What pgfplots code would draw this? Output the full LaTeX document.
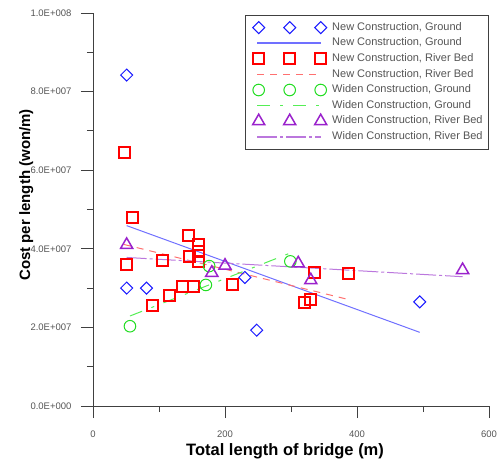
\documentclass[border=0pt]{standalone}
\usepackage{fontspec}
\setmainfont{Liberation Sans}
\usepackage{pgfplots}
\pgfplotsset{compat=1.18}
\definecolor{mblue}{HTML}{1A1AFF}
\definecolor{lblue}{HTML}{7070FF}
\definecolor{mred}{HTML}{FF0000}
\definecolor{lred}{HTML}{FF7070}
\definecolor{mgreen}{HTML}{22DD22}
\definecolor{lgreen}{HTML}{55EE55}
\definecolor{mpurple}{HTML}{9A22CC}
\definecolor{lpurple}{HTML}{BB77DD}
\definecolor{txtgray}{HTML}{555555}
\definecolor{axgray}{HTML}{404040}
\pgfplotsset{
 markleg/.style={legend image code/.code={
   \pgfpathrectangle{\pgfpoint{-6pt}{-3pt}}{\pgfpoint{70pt}{6pt}}\pgfusepath{use as bounding box}
   \draw[##1] plot coordinates {(1.5pt,0pt)(32.5pt,0pt)(63.5pt,0pt)};}},
 lineleg/.style={legend image code/.code={
   \pgfpathrectangle{\pgfpoint{-6pt}{-3pt}}{\pgfpoint{70pt}{6pt}}\pgfusepath{use as bounding box}
   \draw[##1, line width=1.6pt] (0pt,0pt) -- (64pt,0pt);}},
}
\begin{document}
\begin{tikzpicture}
\useasboundingbox (-93pt,-60pt) rectangle (404pt,406pt);
\begin{axis}[
 at={(0pt,0pt)}, anchor=south west,
 scale only axis, width=396pt, height=393pt,
 xmin=0, xmax=600, ymin=0, ymax=1e8,
 axis x line*=bottom, axis y line*=left,
 axis line style={axgray, line width=0.8pt, -},
 tick align=outside,
 major tick length=12pt, minor tick length=6pt,
 tick style={axgray, line width=0.8pt},
 xtick={0,200,400,600}, minor xtick={100,300,500},
 ytick={0,2e7,4e7,6e7,8e7,1e8}, minor ytick={1e7,3e7,5e7,7e7,9e7},
 yticklabels={0.0E+000,2.0E+007,4.0E+007,6.0E+007,8.0E+007,1.0E+008},
 scaled y ticks=false, scaled x ticks=false,
 /pgf/number format/assume math mode=true,
 xticklabel style={font=\fontsize{9.5}{11}\selectfont, text=txtgray, yshift=-9pt},
 yticklabel style={font=\fontsize{9.5}{11}\selectfont, text=txtgray, xshift=-6pt},
 xlabel={Total length of bridge (m)},
 ylabel={Cost per length (won/m)},
 every axis x label/.style={font=\fontsize{16.5}{18}\selectfont\bfseries, at={(axis description cs:0.485,-0.127)}, anchor=base},
 every axis y label/.style={font=\fontsize{15}{18}\selectfont\bfseries, at={(axis description cs:-0.159,0.537)}, rotate=90, anchor=base},
 legend style={at={(axis description cs:1,0.995)}, anchor=north east,
   draw=axgray, line width=0.8pt, fill=white,
   font=\fontsize{11}{13}\selectfont, text=txtgray,
   inner xsep=6pt, inner ysep=7pt, row sep=5.1pt,
   nodes={inner sep=0pt, text height=8pt, text depth=2.5pt},
   /tikz/column 1/.style={column sep=11pt}},
 legend cell align=left,
]
% New Construction, Ground
\addplot[only marks, mblue, line width=1pt, mark=square, mark size=4.25pt, mark options={rotate=45, solid}, markleg]
 coordinates {(51,8.42e7) (51,3.0e7) (81,3.0e7) (230,3.27e7) (248,1.93e7) (495,2.65e7)};
\addlegendentry{New Construction, Ground}
\addplot[lblue, line width=1pt, no marks, lineleg]
 coordinates {(51,4.59e7) (495,1.875e7)};
\addlegendentry{New Construction, Ground}
% New Construction, River Bed
\addplot[only marks, mred, line width=2pt, mark=square, mark size=5.5pt, mark options={solid}, markleg]
 coordinates {(47,6.46e7) (60,4.8e7) (51,3.6e7) (90,2.57e7) (105.6,3.7e7) (115.6,2.82e7) (136,3.05e7) (144.5,4.35e7) (146,3.8e7) (152,3.04e7) (160.6,4.12e7) (160.6,3.93e7) (160.6,3.67e7) (211,3.08e7) (321,2.63e7) (330,2.7e7) (336,3.4e7) (387,3.36e7)};
\addlegendentry{New Construction, River Bed}
\addplot[lred, line width=1pt, no marks, dash pattern=on 7pt off 6pt, lineleg]
 coordinates {(47,4.11e7) (387,2.71e7)};
\addlegendentry{New Construction, River Bed}
% Widen Construction, Ground
\addplot[only marks, mgreen, line width=1pt, mark=o, mark size=5.8pt, mark options={solid}, markleg]
 coordinates {(56,2.03e7) (171,3.08e7) (176,3.56e7) (299,3.68e7)};
\addlegendentry{Widen Construction, Ground}
\addplot[lgreen, line width=1pt, no marks, dash pattern=on 13pt off 10pt on 3pt off 10pt, lineleg]
 coordinates {(56,2.29e7) (300,3.9e7)};
\addlegendentry{Widen Construction, Ground}
% Widen Construction, River Bed
\addplot[only marks, mpurple, line width=1.5pt, mark=triangle, mark size=7pt, mark options={solid}, markleg]
 coordinates {(51,4.1e7) (180,3.39e7) (200,3.57e7) (311,3.63e7) (330,3.2e7) (560,3.46e7)};
\addlegendentry{Widen Construction, River Bed}
\addplot[lpurple, line width=1pt, no marks, dash pattern=on 20pt off 3pt on 3pt off 3pt, lineleg]
 coordinates {(51,3.78e7) (560,3.29e7)};
\addlegendentry{Widen Construction, River Bed}
\end{axis}
\end{tikzpicture}
\end{document}
